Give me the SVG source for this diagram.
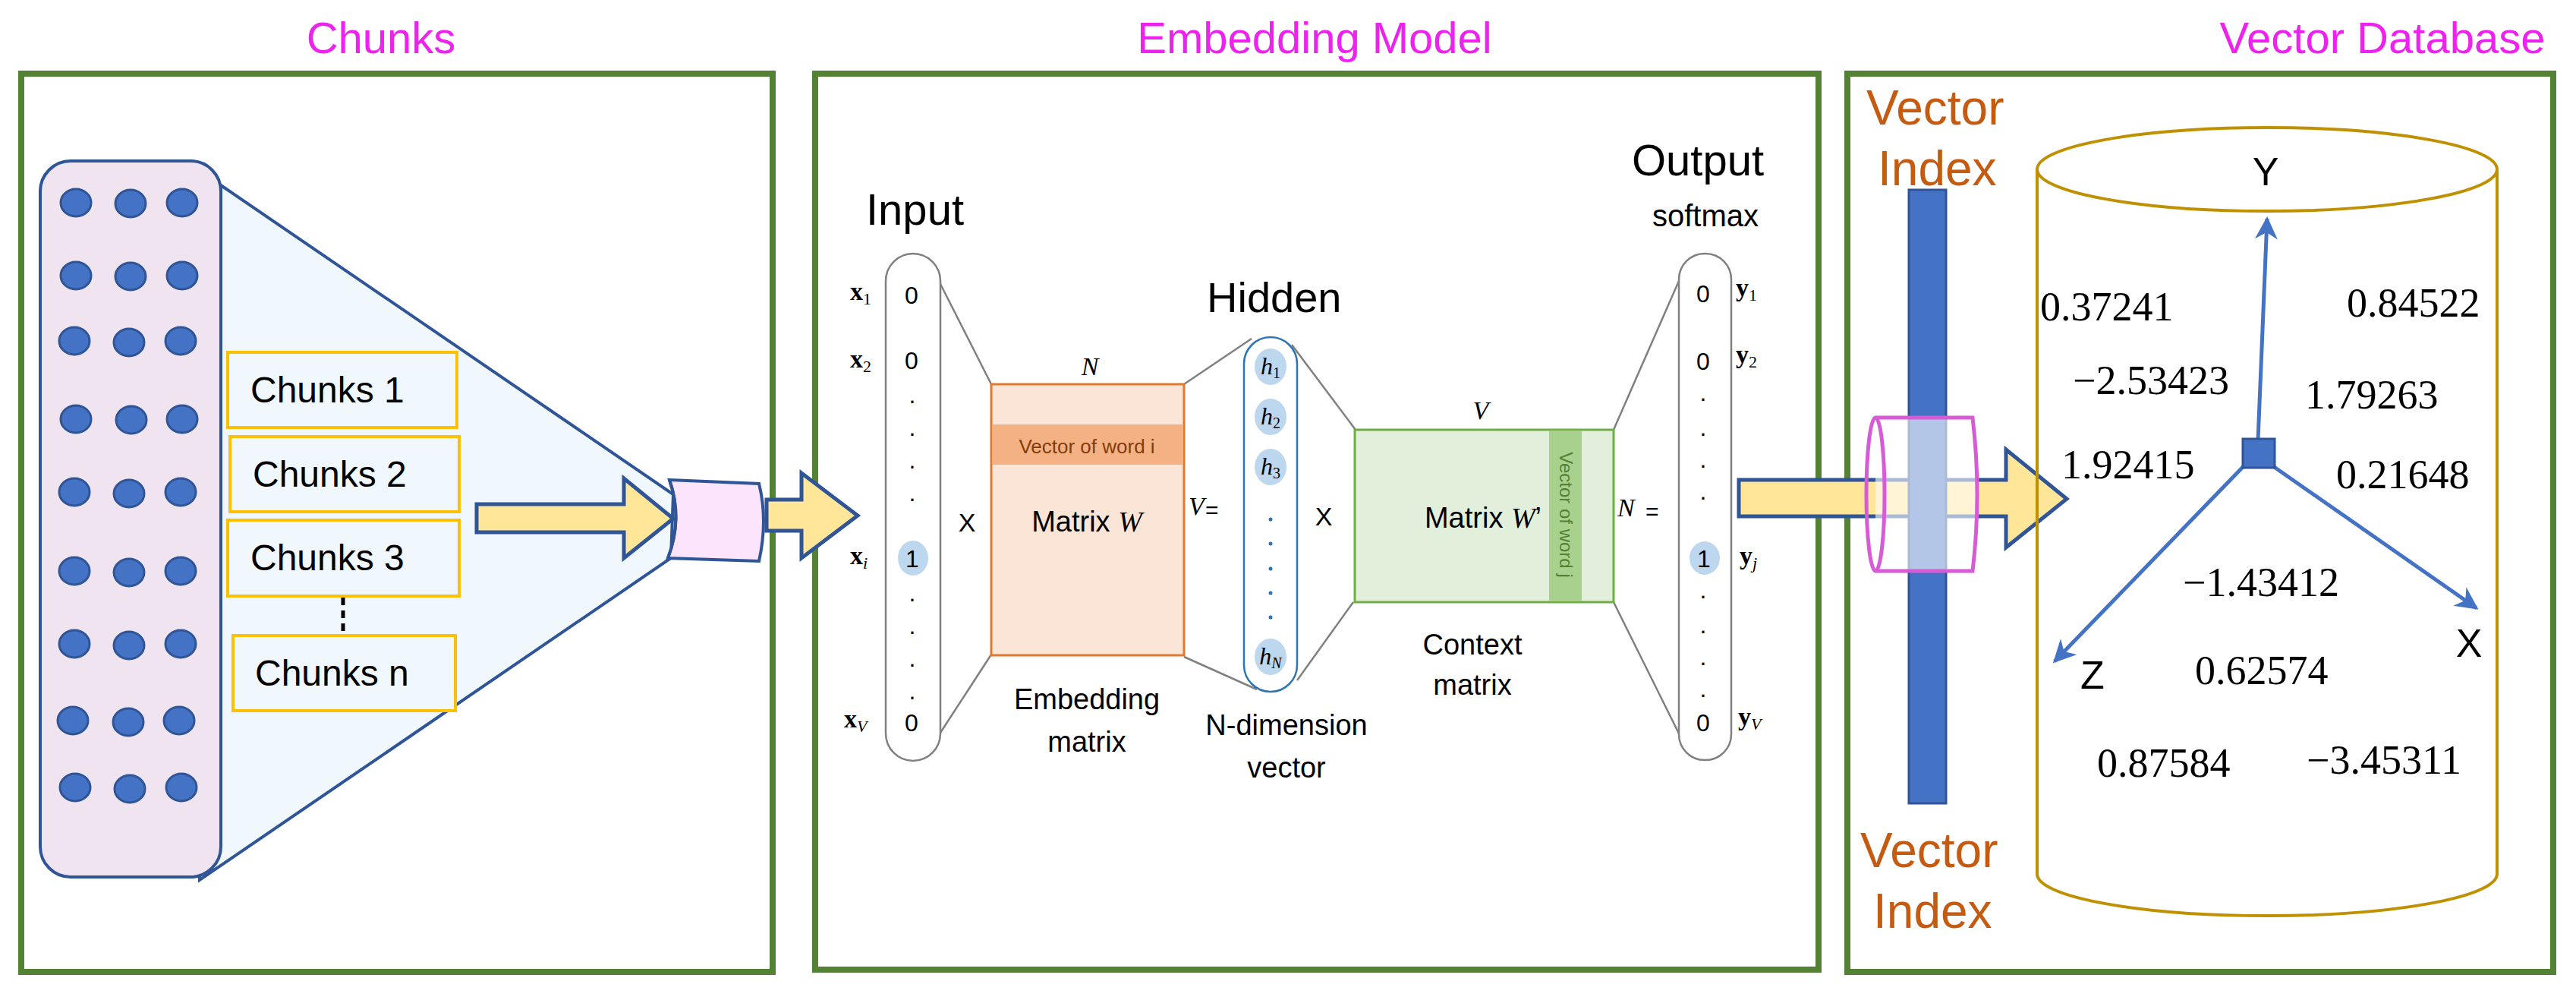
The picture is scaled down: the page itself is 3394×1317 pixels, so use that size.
<svg xmlns="http://www.w3.org/2000/svg" width="3394" height="1317" viewBox="0 0 3394 1317">
<style>
.frame{fill:none;stroke:#548235;stroke-width:8}
.title{font-family:"Liberation Sans",Arial,sans-serif;font-size:58px;fill:#EE22EE;text-anchor:middle}
.sans{font-family:"Liberation Sans",Arial,sans-serif;fill:#000}
.serif{font-family:"Liberation Serif","Times New Roman",serif;fill:#000}
.dot{fill:#4472C4;stroke:#2F5597;stroke-width:3}
.cbox{fill:#F0F8FD;stroke:#FFC000;stroke-width:4}
.ctext{font-family:"Liberation Sans",Arial,sans-serif;font-size:48px;fill:#000}
.thin{stroke:#808080;stroke-width:2.5;fill:none}
.pill{fill:#fff;stroke:#808080;stroke-width:2.5}
.val{font-family:"Liberation Sans",Arial,sans-serif;font-size:32px;text-anchor:middle}
.lab{font-family:"Liberation Serif",serif;font-size:34px;font-weight:bold}
.num{font-family:"Liberation Serif","Times New Roman",serif;font-size:54px;fill:#000}
.vi{font-family:"Liberation Sans",Arial,sans-serif;font-size:64px;fill:#C55A11}
.axis{stroke:#4472C4;stroke-width:5;fill:none}
.arrow{fill:#FFE699;stroke:#2F5597;stroke-width:5}
</style>
<defs>
<marker id="ah" viewBox="0 0 10 10" refX="9" refY="5" markerWidth="6" markerHeight="6" orient="auto"><path d="M0,0 L10,5 L0,10 L3,5 z" fill="#4472C4"/></marker>
</defs>
<rect width="3394" height="1317" fill="#fff"/>

<g id="titles">
<text class="title" x="502" y="70">Chunks</text>
<text class="title" x="1732" y="70">Embedding Model</text>
<text class="title" x="3139" y="70">Vector Database</text>
</g>

<g id="frames">
<rect class="frame" x="28" y="97" width="990" height="1183"/>
<rect class="frame" x="1074" y="97" width="1322" height="1180"/>
<rect class="frame" x="2434" y="97" width="930" height="1183"/>
</g>

<g id="chunks-panel">
<path d="M291,244 L887,651 L884,735 L263,1159 Z" fill="#F0F8FD" stroke="#2F5597" stroke-width="4"/>
<rect x="53" y="212" width="238" height="943" rx="40" fill="#F0E4F0" stroke="#2F5597" stroke-width="4"/>
<g>
<ellipse class="dot" cx="100" cy="267" rx="20" ry="18"/><ellipse class="dot" cx="172" cy="268" rx="20" ry="18"/><ellipse class="dot" cx="240" cy="267" rx="20" ry="18"/>
<ellipse class="dot" cx="100" cy="363" rx="20" ry="18"/><ellipse class="dot" cx="172" cy="364" rx="20" ry="18"/><ellipse class="dot" cx="240" cy="363" rx="20" ry="18"/>
<ellipse class="dot" cx="98" cy="449" rx="20" ry="18"/><ellipse class="dot" cx="170" cy="451" rx="20" ry="18"/><ellipse class="dot" cx="238" cy="449" rx="20" ry="18"/>
<ellipse class="dot" cx="100" cy="552" rx="20" ry="18"/><ellipse class="dot" cx="173" cy="553" rx="20" ry="18"/><ellipse class="dot" cx="240" cy="552" rx="20" ry="18"/>
<ellipse class="dot" cx="98" cy="648" rx="20" ry="18"/><ellipse class="dot" cx="170" cy="650" rx="20" ry="18"/><ellipse class="dot" cx="238" cy="648" rx="20" ry="18"/>
<ellipse class="dot" cx="98" cy="752" rx="20" ry="18"/><ellipse class="dot" cx="170" cy="754" rx="20" ry="18"/><ellipse class="dot" cx="238" cy="752" rx="20" ry="18"/>
<ellipse class="dot" cx="98" cy="848" rx="20" ry="18"/><ellipse class="dot" cx="170" cy="850" rx="20" ry="18"/><ellipse class="dot" cx="238" cy="848" rx="20" ry="18"/>
<ellipse class="dot" cx="96" cy="949" rx="20" ry="18"/><ellipse class="dot" cx="169" cy="951" rx="20" ry="18"/><ellipse class="dot" cx="236" cy="949" rx="20" ry="18"/>
<ellipse class="dot" cx="99" cy="1037" rx="20" ry="18"/><ellipse class="dot" cx="171" cy="1039" rx="20" ry="18"/><ellipse class="dot" cx="239" cy="1037" rx="20" ry="18"/>
</g>
</g>
<g id="chunk1"><rect class="cbox" x="300" y="464" width="302" height="99"/><text class="ctext" x="330" y="530">Chunks 1</text></g>
<g id="chunk2"><rect class="cbox" x="303" y="575" width="302" height="99"/><text class="ctext" x="333" y="641">Chunks 2</text></g>
<g id="chunk3"><rect class="cbox" x="300" y="685" width="305" height="100"/><text class="ctext" x="330" y="751">Chunks 3</text></g>
<g id="chunkn"><rect class="cbox" x="307" y="837" width="293" height="99"/><text class="ctext" x="336" y="903">Chunks n</text></g>

<g id="connectors">
<line x1="452" y1="787" x2="452" y2="836" stroke="#000" stroke-width="5" stroke-dasharray="10,7"/>
<path class="arrow" d="M628,664 L822,664 L822,630 L887,683 L822,735 L822,701 L628,701 Z"/>
<path d="M882,632 L1000,637 Q1012,685 1000,739 L880,735 Q900,683 882,632 Z" fill="#FCE4FC" stroke="#2F5597" stroke-width="4"/>
<path d="M882,632 Q900,683 880,735" fill="none" stroke="#2F5597" stroke-width="4"/>
<path class="arrow" d="M1010,658 L1056,658 L1056,623 L1130,679 L1056,735 L1056,699 L1010,699 Z"/>
<line class="thin" x1="1239" y1="374" x2="1306" y2="506"/>
<line class="thin" x1="1239" y1="965" x2="1306" y2="862"/>
<line class="thin" x1="1560" y1="506" x2="1649" y2="446"/>
<line class="thin" x1="1560" y1="865" x2="1656" y2="908"/>
<line class="thin" x1="1702" y1="454" x2="1786" y2="566"/>
<line class="thin" x1="1709" y1="896" x2="1783" y2="793"/>
<line class="thin" x1="2126" y1="566" x2="2212" y2="370"/>
<line class="thin" x1="2126" y1="793" x2="2212" y2="966"/>
<path class="arrow" d="M2291,632 L2643,632 L2643,592 L2723,657 L2643,721 L2643,680 L2291,680 Z"/>
<line class="axis" x1="2975" y1="580" x2="2987" y2="288" marker-end="url(#ah)"/>
<line class="axis" x1="2992" y1="612" x2="3263" y2="801" marker-end="url(#ah)"/>
<line class="axis" x1="2958" y1="612" x2="2707" y2="871" marker-end="url(#ah)"/>
</g>

<g id="input">
<text class="sans" x="1141" y="296" font-size="58">Input</text>
<rect class="pill" x="1167" y="334" width="72" height="668" rx="36"/>
<ellipse cx="1203" cy="735" rx="20" ry="23" fill="#BDD7EE"/>
<g class="val">
<text x="1201" y="400">0</text><text x="1201" y="486">0</text>
<text x="1202" y="531">.</text><text x="1202" y="574">.</text><text x="1202" y="617">.</text><text x="1202" y="660">.</text>
<text x="1202" y="747">1</text>
<text x="1202" y="792">.</text><text x="1202" y="835">.</text><text x="1202" y="878">.</text><text x="1202" y="921">.</text>
<text x="1201" y="963">0</text>
</g>
<g class="lab">
<text x="1120" y="395">x<tspan font-size="22" font-weight="normal" dy="6">1</tspan></text>
<text x="1120" y="484">x<tspan font-size="22" font-weight="normal" dy="6">2</tspan></text>
<text x="1120" y="743">x<tspan font-size="22" font-weight="normal" font-style="italic" dy="6">i</tspan></text>
<text x="1112" y="958">x<tspan font-size="22" font-weight="normal" font-style="italic" dy="6">V</tspan></text>
</g>
<text class="sans" x="1274" y="700" font-size="34" text-anchor="middle">X</text>
</g>

<g id="matrix-w">
<rect x="1306" y="506" width="254" height="357" fill="#FBE5D6" stroke="#E07A30" stroke-width="3"/>
<rect x="1307" y="559" width="252" height="53" fill="#F4B183"/>
<text class="sans" x="1432" y="597" font-size="26" text-anchor="middle" style="fill:#843C0C">Vector of word i</text>
<text class="sans" x="1432" y="700" font-size="38" text-anchor="middle">Matrix <tspan class="serif" font-style="italic">W</tspan></text>
<text class="serif" x="1436" y="494" font-size="34" font-style="italic" text-anchor="middle">N</text>
<text class="sans" x="1432" y="934" font-size="38" text-anchor="middle">Embedding</text>
<text class="sans" x="1432" y="990" font-size="38" text-anchor="middle">matrix</text>
<text class="serif" x="1566" y="678" font-size="34" font-style="italic">V</text>
<text class="sans" x="1588" y="682" font-size="30">=</text>
</g>

<g id="hidden">
<text class="sans" x="1590" y="411" font-size="56">Hidden</text>
<rect x="1639" y="444" width="70" height="467" rx="35" fill="#fff" stroke="#2E75B6" stroke-width="2.5"/>
<g fill="#BDD7EE">
<ellipse cx="1674" cy="483" rx="21" ry="24"/><ellipse cx="1674" cy="549" rx="21" ry="24"/><ellipse cx="1674" cy="615" rx="21" ry="24"/><ellipse cx="1674" cy="865" rx="21" ry="24"/>
</g>
<g class="serif" font-size="32" font-style="italic" text-anchor="middle">
<text x="1674" y="493">h<tspan font-size="20" font-style="normal" dy="5">1</tspan></text>
<text x="1674" y="559">h<tspan font-size="20" font-style="normal" dy="5">2</tspan></text>
<text x="1674" y="625">h<tspan font-size="20" font-style="normal" dy="5">3</tspan></text>
<text x="1674" y="875">h<tspan font-size="20" dy="5">N</tspan></text>
</g>
<g fill="#2E75B6"><circle cx="1674" cy="684" r="2.5"/><circle cx="1674" cy="716" r="2.5"/><circle cx="1674" cy="749" r="2.5"/><circle cx="1674" cy="781" r="2.5"/><circle cx="1674" cy="813" r="2.5"/></g>
<text class="sans" x="1695" y="968" font-size="38" text-anchor="middle">N-dimension</text>
<text class="sans" x="1695" y="1024" font-size="38" text-anchor="middle">vector</text>
<text class="sans" x="1744" y="692" font-size="34" text-anchor="middle">X</text>
</g>

<g id="matrix-w2">
<rect x="1785" y="566" width="341" height="227" fill="#E2EFDA" stroke="#70AD47" stroke-width="3"/>
<rect x="2041" y="567" width="43" height="225" fill="#A9D18E"/>
<text class="sans" x="0" y="0" font-size="24" transform="translate(2055,678) rotate(90)" text-anchor="middle" style="fill:#548235">Vector of word j</text>
<text class="sans" x="1954" y="695" font-size="38" text-anchor="middle">Matrix <tspan class="serif" font-style="italic">W</tspan>’</text>
<text class="serif" x="1951" y="552" font-size="34" font-style="italic" text-anchor="middle">V</text>
<text class="sans" x="1940" y="862" font-size="38" text-anchor="middle">Context</text>
<text class="sans" x="1940" y="915" font-size="38" text-anchor="middle">matrix</text>
<text class="serif" x="2131" y="680" font-size="34" font-style="italic">N</text>
<text class="sans" x="2168" y="684" font-size="30">=</text>
</g>

<g id="output">
<text class="sans" x="2150" y="231" font-size="58">Output</text>
<text class="sans" x="2247" y="298" font-size="40" text-anchor="middle">softmax</text>
<rect class="pill" x="2212" y="334" width="69" height="667" rx="34"/>
<ellipse cx="2246" cy="735" rx="20" ry="22" fill="#BDD7EE"/>
<g class="val">
<text x="2244" y="398">0</text><text x="2244" y="487">0</text>
<text x="2244" y="528">.</text><text x="2244" y="574">.</text><text x="2244" y="616">.</text><text x="2244" y="658">.</text>
<text x="2245" y="747">1</text>
<text x="2244" y="788">.</text><text x="2244" y="834">.</text><text x="2244" y="876">.</text><text x="2244" y="918">.</text>
<text x="2244" y="963">0</text>
</g>
<g class="lab">
<text x="2287" y="390">y<tspan font-size="22" font-weight="normal" dy="6">1</tspan></text>
<text x="2287" y="478">y<tspan font-size="22" font-weight="normal" dy="6">2</tspan></text>
<text x="2292" y="743">y<tspan font-size="22" font-weight="normal" font-style="italic" dy="6">j</tspan></text>
<text x="2290" y="955">y<tspan font-size="22" font-weight="normal" font-style="italic" dy="6">V</tspan></text>
</g>
</g>

<g id="vector-index">
<rect x="2515" y="250" width="49" height="808" fill="#4472C4" stroke="#2F5597" stroke-width="3"/>
<text class="vi" x="2459" y="164">Vector</text>
<text class="vi" x="2474" y="244">Index</text>
<text class="vi" x="2451" y="1142">Vector</text>
<text class="vi" x="2468" y="1222">Index</text>
</g>

<g id="ring">
<path d="M2471,550 L2599,550 Q2611,651 2599,752 L2471,752" fill="#fff" fill-opacity="0.6" stroke="#D65CD6" stroke-width="5"/>
<ellipse cx="2471" cy="651" rx="12" ry="101" fill="none" stroke="#D65CD6" stroke-width="5"/>
</g>

<g id="database">
<path d="M2684,223 L2684,1151 A303,55 0 0 0 3290,1151 L3290,223" fill="none" stroke="#BF9000" stroke-width="4"/>
<ellipse cx="2987" cy="223" rx="303" ry="55" fill="none" stroke="#BF9000" stroke-width="4"/>
<rect x="2955" y="578" width="42" height="38" fill="#4472C4" stroke="#2F5597" stroke-width="3"/>
<g class="sans" font-size="52">
<text x="2985" y="244" text-anchor="middle">Y</text>
<text x="3253" y="865" text-anchor="middle">X</text>
<text x="2757" y="907" text-anchor="middle">Z</text>
</g>
<g class="num">
<text x="2688" y="422">0.37241</text>
<text x="3092" y="417">0.84522</text>
<text x="2731" y="519">−2.53423</text>
<text x="3037" y="538">1.79263</text>
<text x="2716" y="630">1.92415</text>
<text x="3078" y="643">0.21648</text>
<text x="2876" y="785">−1.43412</text>
<text x="2892" y="901">0.62574</text>
<text x="2763" y="1023">0.87584</text>
<text x="3039" y="1019">−3.45311</text>
</g>
</g>
</svg>
